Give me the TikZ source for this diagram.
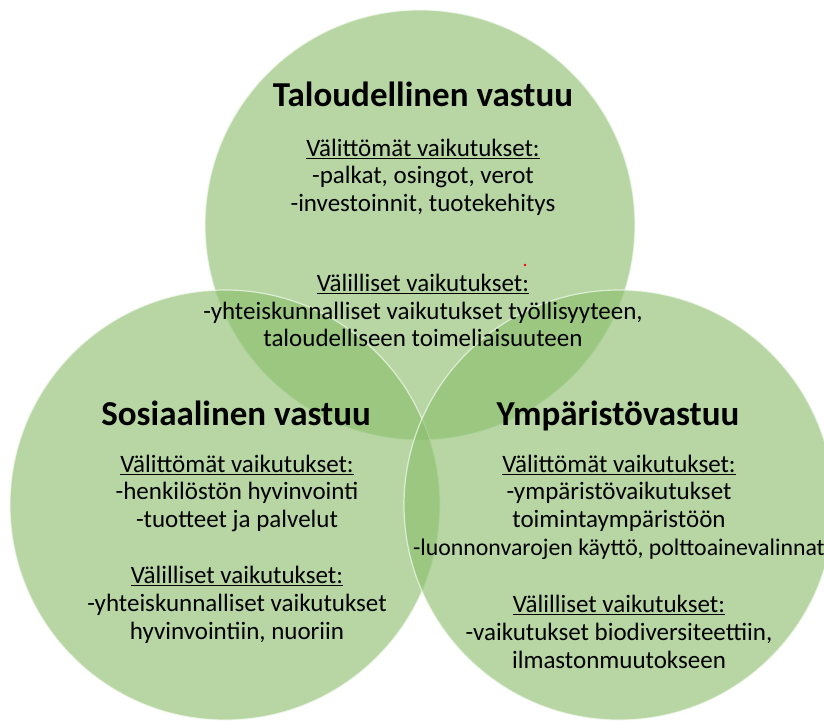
\documentclass[tikz,border=0pt]{standalone}
\usepackage{fontspec}
\setmainfont{Carlito}
\usepackage{xcolor}
\usepackage{tikz}
\usetikzlibrary{positioning}
\definecolor{leafgreen}{HTML}{8ABD6C}
\definecolor{rimwhite}{HTML}{F4FAF0}

\begin{document}
\begin{tikzpicture}[x=1pt, y=-1pt]
    % Styles
    \tikzstyle{ring} = [circle, draw=rimwhite, draw opacity=0.7, line width=1.2pt, fill=leafgreen, fill opacity=0.62, minimum size=430pt, inner sep=0pt]
    \tikzstyle{heading} = [font=\fontsize{35}{40}\selectfont\bfseries, anchor=base, inner sep=0pt]
    \tikzstyle{effects} = [font=\fontsize{25}{27.7}\selectfont, align=center, anchor=north, inner sep=0pt]

    \clip (0,0) rectangle (824,720);

    % Circles
    \node [ring] (talous) at (420,225) {};
    \node [ring] (sosiaali) at (225,505) {};
    \node [ring] (ymparisto) at (619,505) {};
    \fill [red] (525,265) circle (1.3);

    % Texts
    \node [heading] (taloustitle) at (423,106) {Taloudellinen vastuu};
    \node [effects] (taloustext) at (423,136.6) {\strut\underline{Välittömät vaikutukset:}\\
        -palkat, osingot, verot\\
        -investoinnit, tuotekehitys\\[52.3pt]
        \underline{Välilliset vaikutukset:}\\
        -yhteiskunnalliset vaikutukset työllisyyteen,\\
        taloudelliseen toimeliaisuuteen};

    \node [heading] (sosiaalititle) at (236,425) {Sosiaalinen vastuu};
    \node [effects] (sosiaalitext) at (237,452.6) {\strut\underline{Välittömät vaikutukset:}\\
        -henkilöstön hyvinvointi\\
        -tuotteet ja palvelut\\[28.5pt]
        \underline{Välilliset vaikutukset:}\\
        -yhteiskunnalliset vaikutukset\\
        hyvinvointiin, nuoriin};

    \node [heading] (ymparistotitle) at (618,425) {Ympäristövastuu};
    \node [effects] (ymparistotext) at (619,452.6) {\strut\underline{Välittömät vaikutukset:}\\
        -ympäristövaikutukset\\
        toimintaympäristöön\\
        {\fontsize{23.8}{27.7}\selectfont -luonnonvarojen käyttö, polttoainevalinnat}\\[30pt]
        \underline{Välilliset vaikutukset:}\\
        -vaikutukset biodiversiteettiin,\\
        ilmastonmuutokseen};
\end{tikzpicture}
\end{document}
